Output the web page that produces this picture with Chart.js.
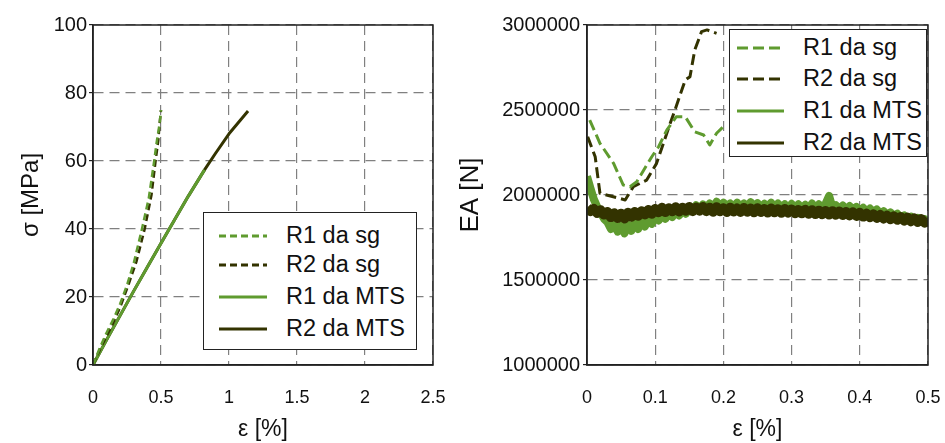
<!DOCTYPE html>
<html>
<head>
<meta charset="utf-8">
<script src="https://cdn.jsdelivr.net/npm/chart.js@4.4.1/dist/chart.umd.min.js"></script>
<style>
body { margin: 0; background: #fff; width: 945px; height: 443px; overflow: hidden; position: relative; font-family: "Liberation Sans", Arial, sans-serif; }
.wrap { position: absolute; top: 0; }
.legend { position: absolute; background: #fff; border: 1px solid #222; box-sizing: border-box; }
.legend svg { position: absolute; left: 0; top: 0; }
.legend span { position: absolute; white-space: nowrap; color: #111; line-height: 1; }
</style>
</head>
<body>
<div class="wrap" style="left:0;width:470px;height:443px"><canvas id="left" width="470" height="443"></canvas></div>
<div class="wrap" style="left:445px;width:500px;height:443px"><canvas id="right" width="500" height="443"></canvas></div>
<div class="legend" id="legLeft"></div>
<div class="legend" id="legRight"></div>
<script>
var green = '#5f9b2f';
var dark = '#333300';
var names = ['R1 da sg', 'R2 da sg', 'R1 da MTS', 'R2 da MTS'];

// left plot: stress [MPa] vs strain [%]
var r1SgStrain = [0, 0.05, 0.1, 0.15, 0.2, 0.25, 0.3, 0.36, 0.41, 0.45, 0.47, 0.49, 0.5];
var r1SgStress = [0, 5, 9.5, 13.5, 18, 23.5, 30, 40, 49, 60, 66, 71, 75];
var r2SgStrain = [0, 0.05, 0.1, 0.15, 0.2, 0.26, 0.32, 0.38, 0.43, 0.46, 0.48, 0.49, 0.5];
var r2SgStress = [0, 4.5, 8.5, 12.5, 17, 23.5, 30.5, 40, 50, 60, 66, 71, 75];
var r1MtsStrain = [0, 0.1, 0.2, 0.3, 0.4, 0.5, 0.6, 0.7, 0.82];
var r1MtsStress = [0, 7.4, 14.6, 21.8, 28.8, 35.8, 42.7, 49.6, 57.4];
var r2MtsStrain = [0, 0.1, 0.2, 0.3, 0.4, 0.5, 0.6, 0.7, 0.82, 0.9, 1.0, 1.1, 1.14];
var r2MtsStress = [0, 7.4, 14.6, 21.8, 28.8, 35.8, 42.7, 49.6, 57.4, 62.2, 68.0, 72.8, 74.7];

// right plot: EA [kN] vs strain [%]
var eaSg1Strain = [0.004, 0.019, 0.039, 0.053, 0.063, 0.073, 0.095, 0.105, 0.117, 0.131, 0.144, 0.158, 0.171, 0.18, 0.19, 0.2];
var eaSg1 = [2441, 2304, 2186, 2059, 2049, 2078, 2225, 2284, 2382, 2461, 2461, 2372, 2353, 2294, 2363, 2402];
var eaSg2Strain = [0.001, 0.012, 0.019, 0.056, 0.068, 0.0875, 0.102, 0.122, 0.129, 0.144, 0.151, 0.158, 0.168, 0.176, 0.19];
var eaSg2 = [2343, 2225, 2010, 1971, 2049, 2088, 2186, 2422, 2500, 2676, 2696, 2853, 2961, 2971, 2951];
var eaMtsStrain = [0, 0.005, 0.01, 0.015, 0.02, 0.025, 0.03, 0.035, 0.04, 0.045,
  0.05, 0.055, 0.06, 0.065, 0.07, 0.075, 0.08, 0.085, 0.09, 0.095,
  0.1, 0.105, 0.11, 0.115, 0.12, 0.125, 0.13, 0.135, 0.14, 0.145,
  0.15, 0.155, 0.16, 0.165, 0.17, 0.175, 0.18, 0.185, 0.19, 0.195,
  0.2, 0.205, 0.21, 0.215, 0.22, 0.225, 0.23, 0.235, 0.24, 0.245,
  0.25, 0.255, 0.26, 0.265, 0.27, 0.275, 0.28, 0.285, 0.29, 0.295,
  0.3, 0.305, 0.31, 0.315, 0.32, 0.325, 0.33, 0.335, 0.34, 0.345,
  0.35, 0.355, 0.36, 0.365, 0.37, 0.375, 0.38, 0.385, 0.39, 0.395,
  0.4, 0.405, 0.41, 0.415, 0.42, 0.425, 0.43, 0.435, 0.44, 0.445,
  0.45, 0.455, 0.46, 0.465, 0.47, 0.475, 0.48, 0.485, 0.49, 0.495, 0.5];
var eaMts1 = [2110, 2040, 1975, 1930, 1895, 1860, 1840, 1800, 1830, 1785,
  1820, 1775, 1825, 1790, 1840, 1800, 1850, 1815, 1860, 1830,
  1870, 1850, 1880, 1860, 1895, 1870, 1900, 1880, 1915, 1890,
  1925, 1905, 1940, 1915, 1945, 1920, 1950, 1925, 1960, 1930,
  1955, 1935, 1950, 1930, 1955, 1928, 1950, 1930, 1958, 1932,
  1952, 1925, 1948, 1928, 1955, 1930, 1950, 1925, 1945, 1922,
  1948, 1920, 1945, 1918, 1942, 1920, 1950, 1918, 1945, 1920,
  1950, 1995, 1925, 1940, 1915, 1938, 1912, 1935, 1910, 1930,
  1905, 1925, 1900, 1920, 1895, 1915, 1890, 1905, 1882, 1898,
  1875, 1890, 1868, 1880, 1858, 1872, 1850, 1865, 1842, 1858, 1838];
var eaMts2 = [1925, 1905, 1918, 1895, 1910, 1885, 1900, 1870, 1892, 1865,
  1890, 1862, 1895, 1872, 1900, 1878, 1905, 1885, 1912, 1890,
  1918, 1898, 1925, 1900, 1922, 1905, 1928, 1903, 1925, 1908,
  1930, 1905, 1926, 1908, 1930, 1905, 1925, 1902, 1928, 1905,
  1922, 1900, 1925, 1903, 1920, 1900, 1924, 1902, 1920, 1898,
  1922, 1900, 1918, 1897, 1920, 1898, 1916, 1895, 1918, 1896,
  1915, 1893, 1912, 1892, 1913, 1890, 1910, 1888, 1908, 1887,
  1906, 1885, 1905, 1884, 1903, 1882, 1900, 1880, 1898, 1877,
  1895, 1873, 1890, 1870, 1886, 1866, 1882, 1862, 1878, 1858,
  1874, 1855, 1870, 1850, 1866, 1846, 1862, 1842, 1858, 1838, 1852];

var leftXTicks = [0, 0.5, 1, 1.5, 2, 2.5];
var leftYTicks = [0, 20, 40, 60, 80, 100];
var rightXTicks = [0, 0.1, 0.2, 0.3, 0.4, 0.5];
var rightYTicks = [1000000, 1500000, 2000000, 2500000, 3000000];

var leftDash = [7, 4];
var rightDash = [11, 5];

function pts(xs, ys, k) {
  return xs.map(function(x, i) { return {x: x, y: ys[i] * (k || 1)}; });
}

function line(label, data, color, width, dash, order) {
  return {
    label: label, data: data, borderColor: color, backgroundColor: color,
    borderWidth: width, borderDash: dash || [], pointRadius: 0,
    borderJoinStyle: 'round', borderCapStyle: 'butt',
    tension: 0, fill: false, order: order || 0
  };
}

var frame = {
  id: 'frame',
  afterDraw: function(chart) {
    var a = chart.chartArea, ctx = chart.ctx;
    ctx.save();
    ctx.strokeStyle = '#222';
    ctx.lineWidth = 1.5;
    ctx.setLineDash([]);
    ctx.strokeRect(a.left, a.top, a.right - a.left, a.bottom - a.top);
    ctx.restore();
  }
};

function fmt(v) { return String(+Number(v).toFixed(2)); }

function xAxis(ticks, title) {
  return {
    type: 'linear', min: ticks[0], max: ticks[ticks.length - 1],
    afterBuildTicks: function(s) { s.ticks = ticks.map(function(v) { return {value: v}; }); },
    afterFit: function(s) { s.height = 78; },
    grid: { color: '#808080', lineWidth: 1.2, drawTicks: false },
    border: { color: '#222', width: 1.5, dash: [10, 6] },
    // tall line height pushes the labels down without widening the side padding
    ticks: { color: '#111', padding: 0, font: { family: '"Liberation Sans Narrow", "Liberation Sans"', size: 18, lineHeight: 3.72 }, callback: fmt, maxRotation: 0 },
    title: { display: true, text: title, color: '#111', padding: {top: 0, bottom: 0}, font: { family: '"Liberation Sans Narrow", "Liberation Sans"', size: 23 } }
  };
}

function yAxis(ticks, title, width, font, titleFont, titlePad, tickPad) {
  return {
    type: 'linear', min: ticks[0], max: ticks[ticks.length - 1],
    afterBuildTicks: function(s) { s.ticks = ticks.map(function(v) { return {value: v}; }); },
    afterFit: function(s) { s.width = width; },
    grid: { color: '#808080', lineWidth: 1.2, drawTicks: true, tickLength: 4, tickColor: '#222', tickBorderDash: [] },
    border: { color: '#222', width: 1.5, dash: [10, 6] },
    ticks: { color: '#111', padding: tickPad, font: font, callback: fmt },
    title: { display: true, text: title, color: '#111', padding: {top: titlePad, bottom: 0}, font: titleFont }
  };
}

var common = {
  responsive: false, animation: false, events: [],
  plugins: { legend: { display: false }, tooltip: { enabled: false } }
};

new Chart(document.getElementById('left'), {
  type: 'line',
  data: {
    datasets: [
      line(names[0], pts(r1SgStrain, r1SgStress), green, 2.5, leftDash),
      line(names[1], pts(r2SgStrain, r2SgStress), dark, 2.5, leftDash),
      line(names[2], pts(r1MtsStrain, r1MtsStress), green, 3),
      line(names[3], pts(r2MtsStrain, r2MtsStress), dark, 3)
    ]
  },
  options: Object.assign({}, common, {
    layout: { padding: { left: 0, right: 37, top: 25, bottom: 0 } },
    scales: {
      x: xAxis(leftXTicks, 'ε [%]'),
      y: yAxis(leftYTicks, 'σ [MPa]', 93,
        { family: '"Liberation Sans Narrow", "Liberation Sans"', size: 20 },
        { family: '"Liberation Sans"', size: 24 }, 16.6, 2)
    }
  }),
  plugins: [frame]
});

new Chart(document.getElementById('right'), {
  type: 'line',
  data: {
    datasets: [
      line(names[0], pts(eaSg1Strain, eaSg1, 1000), green, 3, rightDash, 0),
      line(names[1], pts(eaSg2Strain, eaSg2, 1000), dark, 3, rightDash, 0),
      line(names[2], pts(eaMtsStrain, eaMts1, 1000), green, 8, null, 2),
      line(names[3], pts(eaMtsStrain, eaMts2, 1000), dark, 10, null, 1)
    ]
  },
  options: Object.assign({}, common, {
    layout: { padding: { left: 0, right: 17, top: 25, bottom: 0 } },
    scales: {
      x: xAxis(rightXTicks, 'ε [%]'),
      y: yAxis(rightYTicks, 'EA [N]', 142,
        { family: '"Liberation Sans"', size: 20 },
        { family: '"Liberation Sans"', size: 26 }, 10.4, 3)
    }
  }),
  plugins: [frame]
});

function legend(id, box, rowY, sampleX, textX, size, dash) {
  var el = document.getElementById(id);
  el.style.left = box[0] + 'px';
  el.style.top = box[1] + 'px';
  el.style.width = box[2] + 'px';
  el.style.height = box[3] + 'px';
  var svg = '<svg width="' + box[2] + '" height="' + box[3] + '">';
  var styles = [[green, dash], [dark, dash], [green, null], [dark, null]];
  var html = '';
  for (var i = 0; i < names.length; i++) {
    var c = styles[i][0], d = styles[i][1];
    svg += '<line x1="' + sampleX[0] + '" x2="' + sampleX[1] + '" y1="' + rowY[i] + '" y2="' + rowY[i] +
      '" stroke="' + c + '" stroke-width="3"' + (d ? ' stroke-dasharray="' + d.join(',') + '"' : '') + '/>';
    html += '<span style="left:' + textX + 'px;top:' + (rowY[i] - size / 2) + 'px;font-size:' + size + 'px">' + names[i] + '</span>';
  }
  svg += '</svg>';
  el.innerHTML = svg + html;
}

legend('legLeft', [203, 212, 214, 138], [23, 52, 84, 116], [15, 63], 82, 23.5, leftDash);
legend('legRight', [729, 29, 198, 128], [18, 49, 81, 113], [7, 54], 73, 23.5, rightDash);
</script>
</body>
</html>
